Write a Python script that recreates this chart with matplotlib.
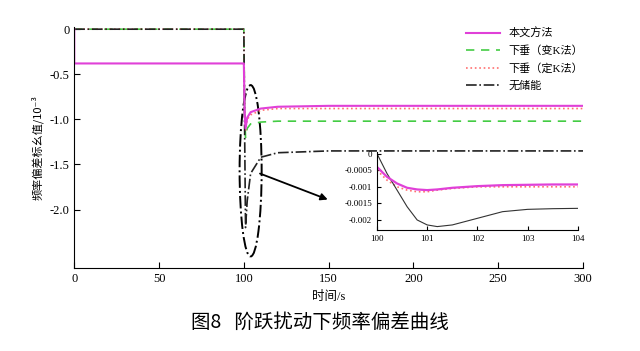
import matplotlib.pyplot as plt
from matplotlib.patches import Ellipse

plt.rcParams['font.family'] = ['Liberation Serif', 'Noto Sans CJK SC', 'DejaVu Sans']
plt.rcParams['axes.unicode_minus'] = False

# main curves (frequency deviation, x10^-3)
t = [0, 0.01, 99.9, 100, 100.5, 101, 102, 104, 110, 120, 150, 200, 300]
pink = [0, -0.38, -0.38, -0.38, -0.95, -1.1, -0.98, -0.92, -0.88, -0.86, -0.85, -0.85, -0.85]
green = [0, 0, 0, 0, -0.95, -1.2, -1.1, -1.05, -1.03, -1.02, -1.02, -1.02, -1.02]
red = [0, 0, 0, 0, -0.98, -1.12, -1.0, -0.95, -0.9, -0.88, -0.88, -0.88, -0.88]
black = [0, 0, 0, 0, -1.2, -2.2, -1.9, -1.6, -1.42, -1.37, -1.35, -1.35, -1.35]

# zoomed curves
ti = [100, 100.2, 100.4, 100.6, 100.8, 101, 101.2, 101.5, 102, 102.5, 103, 103.5, 104]
pink_i = [-0.0004, -0.0007, -0.0009, -0.00103, -0.00108, -0.0011, -0.00108, -0.00103, -0.00098, -0.00095, -0.00094, -0.00093, -0.00093]
red_i = [-0.0005, -0.0008, -0.001, -0.0011, -0.00115, -0.00115, -0.0011, -0.00105, -0.001, -0.001, -0.001, -0.001, -0.001]
black_i = [0, -0.0006, -0.0011, -0.0016, -0.002, -0.00215, -0.0022, -0.00215, -0.00195, -0.00175, -0.00168, -0.00166, -0.00165]

labels = ['本文方法', '下垂（变K法）', '下垂（定K法）', '无储能']
xticks = [0, 50, 100, 150, 200, 250, 300]
yticks = [0, -0.5, -1.0, -1.5, -2.0]
xticks_i = [100, 101, 102, 103, 104]
yticks_i = [0, -0.0005, -0.001, -0.0015, -0.002]

fig = plt.figure(figsize=(6.4, 3.51), dpi=100)
ax = fig.add_axes([0.116, 0.236, 0.795, 0.686])

ax.plot(t, green, color='#44cc44', ls=(0, (5, 4)), lw=1.2, label=labels[1])
ax.plot(t, red, color='#ff7070', ls=':', lw=1.2, label=labels[2])
ax.plot(t, black, color='#222222', ls='-.', lw=1.2, label=labels[3])
ax.plot(t, pink, color='#e040d8', lw=1.5, label=labels[0])

ax.set_xlim(0, 300)
ax.set_ylim(-2.65, 0.02)
ax.set_xticks(xticks)
ax.set_yticks(yticks)
ax.set_yticklabels(['0', '-0.5', '-1.0', '-1.5', '-2.0'])
ax.tick_params(direction='in', labelsize=9, length=4)
ax.spines['top'].set_visible(False)
ax.spines['right'].set_visible(False)
ax.set_xlabel('时间/s', fontsize=9)
ax.set_ylabel('频率偏差标幺值/10⁻³', fontsize=8,
              family=['Noto Sans CJK SC', 'DejaVu Sans'])

h, l = ax.get_legend_handles_labels()
order = [3, 0, 1, 2]
ax.legend([h[i] for i in order], [l[i] for i in order], loc='upper right',
          bbox_to_anchor=(1.02, 1.04), frameon=False, fontsize=8, handlelength=3,
          labelspacing=0.6)

ax.add_patch(Ellipse((104, -1.57), 13, 1.9, fill=False, ls='-.', lw=1.4, color='black'))
ax.annotate('', xy=(151, -1.9), xytext=(108, -1.59),
            arrowprops=dict(arrowstyle='-|>', color='black', lw=1.3))

axi = fig.add_axes([0.589, 0.345, 0.314, 0.222])
axi.plot(ti, red_i, color='#ff7070', ls=':', lw=1.2)
axi.plot(ti, black_i, color='#333333', ls='-', lw=0.8)
axi.plot(ti, pink_i, color='#e040d8', lw=1.6)
axi.set_xlim(100, 104)
axi.set_ylim(-0.0023, 0.00005)
axi.set_xticks(xticks_i)
axi.set_yticks(yticks_i)
axi.set_yticklabels(['0', '-0.0005', '-0.001', '-0.0015', '-0.002'])
axi.tick_params(direction='in', labelsize=6.5, length=3)
axi.spines['top'].set_visible(False)
axi.spines['right'].set_visible(False)
axi.patch.set_alpha(0)

fig.text(0.5, 0.065, '图8   阶跃扰动下频率偏差曲线', ha='center', fontsize=14,
         family=['Noto Sans CJK SC', 'DejaVu Sans'])

fig.savefig('out.png', dpi=100)
